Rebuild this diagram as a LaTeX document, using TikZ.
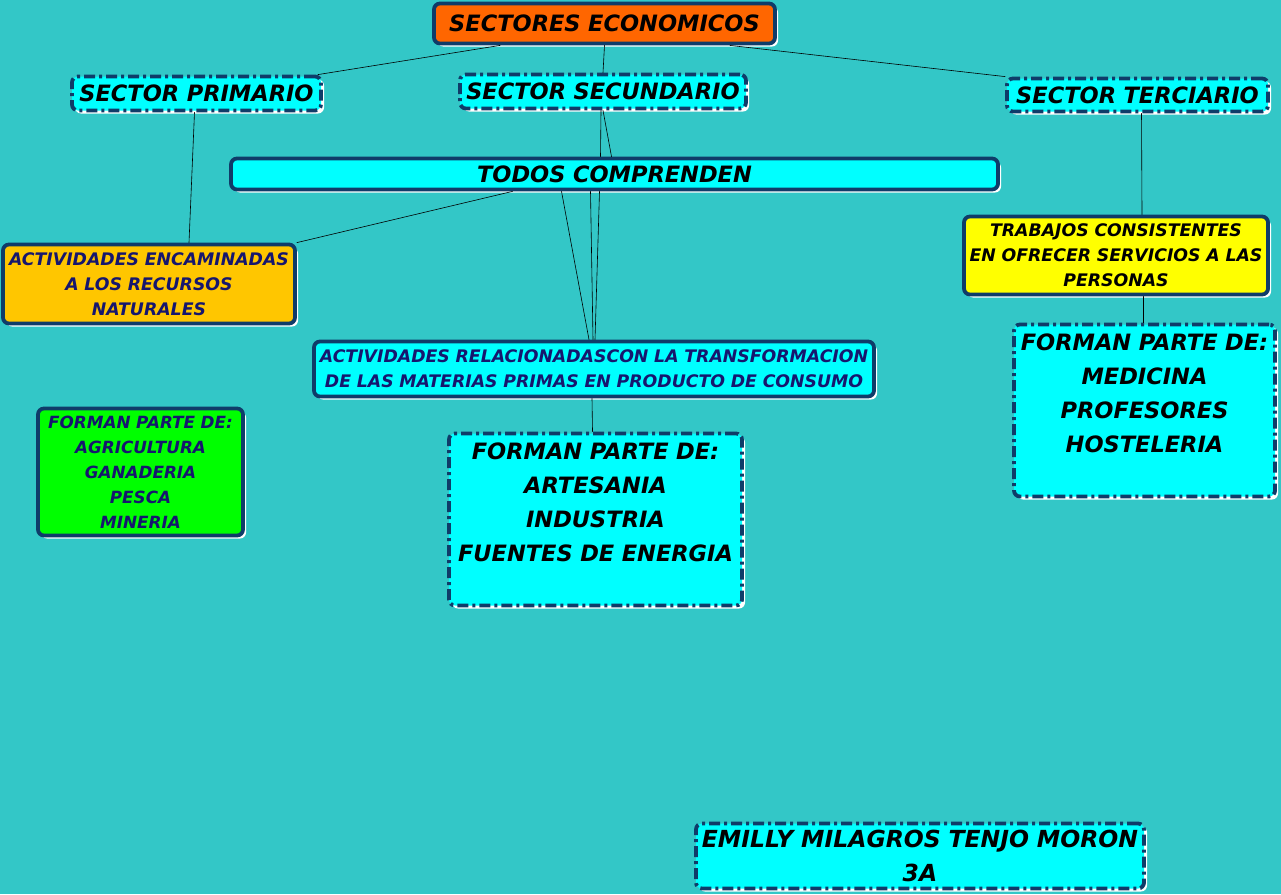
\documentclass[tikz,border=0pt]{standalone}
\usepackage{fontspec}
\setmainfont{DejaVu Sans}
\usetikzlibrary{shadows}

% Colors of the map.
\definecolor{fondo}{HTML}{33C7C7}
\definecolor{borde}{HTML}{0F3C69}
\definecolor{celeste}{HTML}{00FFFF}
\definecolor{naranja}{HTML}{FF6600}
\definecolor{dorado}{HTML}{FFC600}
\definecolor{amarillo}{HTML}{FFFF00}
\definecolor{verde}{HTML}{00FF00}
\definecolor{tinta}{HTML}{16166E}

\begin{document}
\begin{tikzpicture}[%
        x = 1pt,
        y = -1pt,
        line width = 0.2mm,
        line cap = round,
        caja/.style = {%
            draw = borde,
            line width = 3.8pt,
            line cap = butt,
            rounded corners = 6pt,
            align = center,
            inner xsep = 0pt,
            inner ysep = 2pt,
            drop shadow = {%
                shadow xshift = 3pt,
                shadow yshift = -3pt,
                fill = white,
                opacity = 1
            }
        },
        rayas/.style = {dash pattern = on 11pt off 4pt on 3pt off 4pt},
        grande/.style = {font = \fontsize{22.5}{34}\selectfont\bfseries\itshape},
        chica/.style = {font = \fontsize{17.3}{25}\selectfont\bfseries\itshape}
    ]

        % Background of the whole page.
        \fill[fondo] (0, 0) rectangle (1281, 894);
        \useasboundingbox (0, 0) rectangle (1281, 894);

        % Title and the three sectors.
        \node[caja, grande, fill = naranja, text width = 341, minimum height = 40]
            (eco) at (604.5, 23.5) {SECTORES ECONOMICOS};
        \node[caja, rayas, grande, fill = celeste, text width = 249, minimum height = 34]
            (primario) at (196.5, 93.5) {SECTOR PRIMARIO};
        \node[caja, rayas, grande, fill = celeste, text width = 286, minimum height = 34]
            (secundario) at (603, 91.5) {SECTOR SECUNDARIO};
        \node[caja, rayas, grande, fill = celeste, text width = 261, minimum height = 33]
            (terciario) at (1137.5, 95) {SECTOR TERCIARIO};

        % Middle bar.
        \node[caja, grande, fill = celeste, text width = 767, minimum height = 31]
            (todos) at (614.5, 174) {TODOS COMPRENDEN};

        % What each sector does.
        \node[caja, chica, fill = dorado, text = tinta, text width = 292, minimum height = 79]
            (naturales) at (149, 284) {ACTIVIDADES ENCAMINADAS\\ A LOS RECURSOS\\ NATURALES};
        \node[caja, chica, fill = celeste, text = tinta, text width = 560, minimum height = 55]
            (transforma) at (594, 369)
            {ACTIVIDADES RELACIONADASCON LA TRANSFORMACION\\ DE LAS MATERIAS PRIMAS EN PRODUCTO DE CONSUMO};
        \node[caja, chica, fill = amarillo, text width = 304, minimum height = 78]
            (servicios) at (1116, 255.5)
            {TRABAJOS CONSISTENTES\\ EN OFRECER SERVICIOS A LAS\\ PERSONAS};

        % Lists of examples.
        \node[caja, chica, fill = verde, text = tinta, text width = 205, minimum height = 127,
              font = \fontsize{16.8}{25}\selectfont\bfseries\itshape]
            (lista1) at (140.5, 472)
            {FORMAN PARTE DE:\\ AGRICULTURA\\ GANADERIA\\ PESCA\\ MINERIA};
        \node[caja, rayas, grande, fill = celeste, text width = 293, minimum height = 172]
            (lista2) at (595.5, 519.5)
            {FORMAN PARTE DE:\\ ARTESANIA\\ INDUSTRIA\\ FUENTES DE ENERGIA\\ \mbox{}};
        \node[caja, rayas, grande, fill = celeste, text width = 261, minimum height = 172]
            (lista3) at (1144.5, 410.5)
            {FORMAN PARTE DE:\\ MEDICINA\\ PROFESORES\\ HOSTELERIA\\ \mbox{}};

        % Name of the author.
        \node[caja, rayas, grande, fill = celeste, text width = 448, minimum height = 65,
              font = \fontsize{23.5}{34}\selectfont\bfseries\itshape]
            (autora) at (920, 856) {EMILLY MILAGROS TENJO MORON\\ 3A};

        % Draw the connecting lines.
        \begin{scope}[line width = 0.6pt]
            \draw ([xshift = 68pt]eco.south west) -- ([xshift = -5pt]primario.north east);
            \draw (eco.south) -- (secundario.north);
            \draw ([xshift = -47pt]eco.south east) -- (terciario.north west);
            \draw ([xshift = -2pt]secundario.south) -- ([xshift = -14pt]todos.north);
            \draw (secundario.south) -- ([xshift = -3pt]todos.north);
            \draw ([xshift = -2pt]primario.south) -- ([xshift = 40pt]naturales.north);
            \draw ([xshift = -102pt]todos.south) -- (naturales.north east);
            \draw ([xshift = -53pt]todos.south) -- ([xshift = -5pt]transforma.north);
            \draw ([xshift = -24pt]todos.south) -- ([xshift = -1pt]transforma.north);
            \draw ([xshift = -15pt]todos.south) -- ([xshift = 1pt]transforma.north);
            \draw ([xshift = -2pt]transforma.south) -- ([xshift = -3pt]lista2.north);
            \draw ([xshift = 4pt]terciario.south) -- ([xshift = 26pt]servicios.north);
            \draw ([xshift = 27pt]servicios.south) -- ([xshift = -1.5pt]lista3.north);
        \end{scope}
    \end{tikzpicture}
\end{document}
